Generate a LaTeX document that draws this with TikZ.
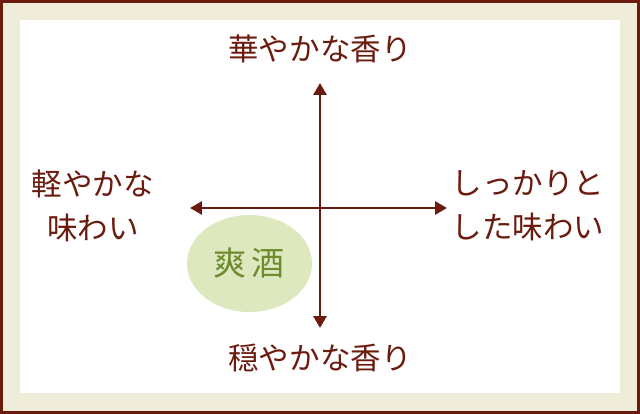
\documentclass[tikz,border=0pt]{standalone}
\usepackage{fontspec}
\setmainfont{Noto Sans CJK JP}
\usepackage{xcolor}
\usepackage{tikz}
\usetikzlibrary{positioning,arrows.meta,shapes.geometric}
\definecolor{SAKEbrown}{HTML}{6B1A0E}
\definecolor{SAKEcream}{HTML}{EFEDDA}
\definecolor{SAKEleaf}{HTML}{DDE8BE}
\definecolor{SAKEgreen}{HTML}{6E8B2F}
\tikzset{
  framebox/.style={draw=SAKEbrown, line width=1.8pt, fill=SAKEcream},
  panelbox/.style={fill=white, draw=none},
  axislabel/.style={text=SAKEbrown, align=center, inner sep=0pt, font=\fontsize{21.7}{31.3}\selectfont},
  axisarr/.style={{Triangle[length=8.5pt, width=9.2pt]}-{Triangle[length=8.5pt, width=9.2pt]}, line width=2.1pt, draw=SAKEbrown},
  typebubble/.style={ellipse, fill=SAKEleaf, draw=none, minimum width=3.125cm, minimum height=2.425cm, inner sep=0pt, text=SAKEgreen, font=\fontsize{23.5}{26}\selectfont}
}

\begin{document}
\begin{tikzpicture}[x=0.025cm, y=-0.025cm]
\useasboundingbox (0,0) rectangle (640,414);
% frame and white panel
\draw[framebox] (1.3,1.3) rectangle (638.7,412.7);
\fill[panelbox] (20,20) rectangle (620,393);

% type bubble, drawn below the axes
\node[typebubble] (sou) at (249.5,263.5) {爽\kern3.5pt 酒};

% axis ends
\coordinate (top) at (320,83);
\coordinate (bottom) at (320,328);
\coordinate (left) at (190,208);
\coordinate (right) at (447,208);
\draw[axisarr] (bottom) -- (top);
\draw[axisarr] (left) -- (right);

% axis labels
\node[axislabel] (hana) at (320,49) {華やかな香り};
\node[axislabel] (oda) at (320,358) {穏やかな香り};
\node[axislabel] (karu) at (93,206) {軽やかな\\味わい};
\node[axislabel] (shik) at (528,206) {しっかりと\\した味わい};
\end{tikzpicture}
\end{document}
